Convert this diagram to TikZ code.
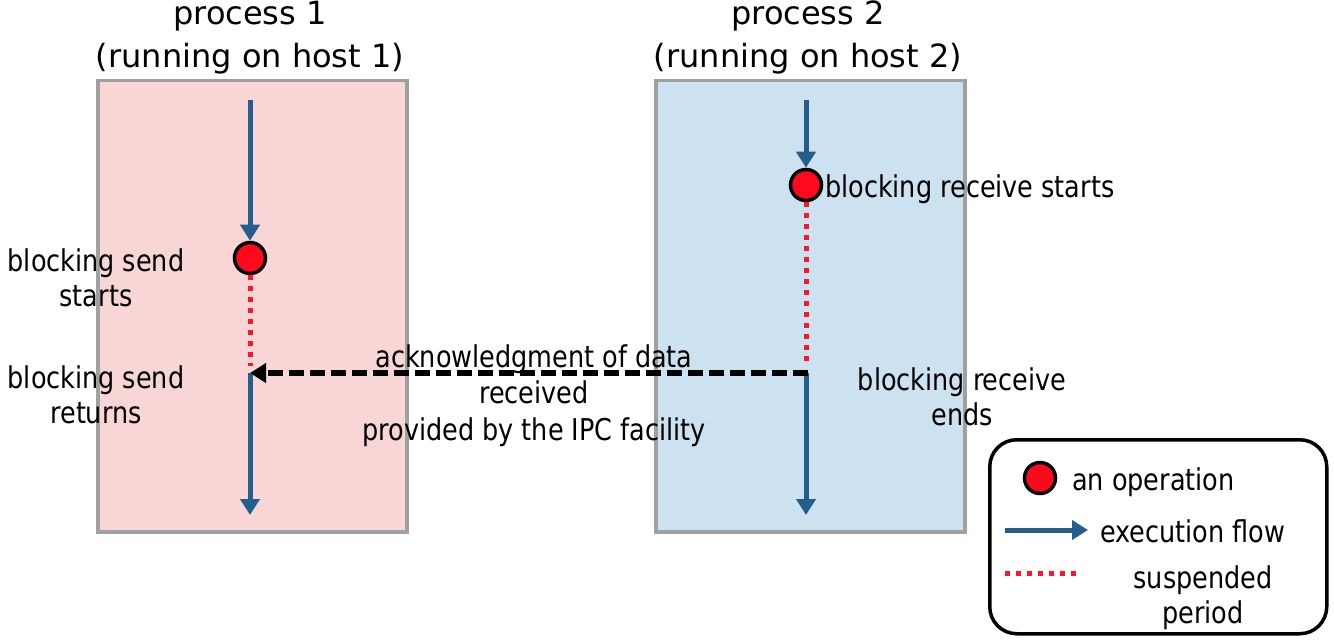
\documentclass[tikz,border=0pt]{standalone}
\usepackage{fontspec}
\setmainfont[FakeStretch=0.85]{DejaVu Sans}
\newfontfamily\titlefont{DejaVu Sans}
\usetikzlibrary{arrows.meta}
\definecolor{pinkbg}{RGB}{248,214,214}
\definecolor{bluebg}{RGB}{205,226,241}
\definecolor{boxgray}{RGB}{160,160,160}
\definecolor{flowblue}{RGB}{36,94,140}
\definecolor{opred}{RGB}{255,10,28}
\definecolor{dotred}{RGB}{255,20,40}
\begin{document}
\begin{tikzpicture}[x=1pt,y=-1pt,
  procbox/.style={draw=boxgray,line width=3.5pt,minimum width=309pt,minimum height=451pt,inner sep=0pt,anchor=north west},
  op/.style={circle,draw=black,line width=3.5pt,fill=opred,minimum size=31pt,inner sep=0pt},
  flow/.style={draw=flowblue,line width=5pt,-{Triangle[length=16pt,width=19pt]}},
  susp/.style={draw=dotred,line width=5pt,dash pattern=on 5pt off 6pt},
  ack/.style={draw=black,line width=6pt,dash pattern=on 15pt off 6pt,-{Triangle[length=16pt,width=19pt]}},
  title/.style={font=\titlefont\fontsize{32}{43}\selectfont,align=center,inner sep=0pt,anchor=base},
  lbl/.style={font=\fontsize{30}{35}\selectfont,align=center,inner sep=0pt}]
\useasboundingbox (0,0) rectangle (1334,644);
% process boxes
\node[procbox,fill=pinkbg] (p1) at (96,79) {};
\node[procbox,fill=bluebg] (p2) at (654,79) {};
\node[title] (t1) at (250,68) {process 1\\(running on host 1)};
\node[title] (t2) at (808,68) {process 2\\(running on host 2)};
% process 1 timeline
\coordinate (a1s) at (250,100);
\node[op] (o1) at (250,258) {};
\coordinate (s1e) at (250,366);
\coordinate (r1) at (250,373);
\coordinate (a1e) at (250,515);
\draw[flow] (a1s) -- (o1.north);
\draw[susp] (o1.south) -- (s1e);
\draw[flow] (r1) -- (a1e);
% process 2 timeline
\coordinate (a2s) at (806,100);
\node[op] (o2) at (806,185) {};
\coordinate (s2e) at (806,366);
\coordinate (r2) at (808,373);
\coordinate (r2b) at (806,373);
\coordinate (a2e) at (806,515);
\draw[flow] (a2s) -- (o2.north);
\draw[susp] (o2.south) -- (s2e);
\draw[flow] (r2b) -- (a2e);
% acknowledgment
\draw[ack] (r2) -- (r1);
% labels
\node[lbl,anchor=base] (l1) at (96,307) {blocking send\\starts};
\node[lbl,anchor=base] (l2) at (96,423) {blocking send\\returns};
\node[lbl,anchor=base west] (l3) at (825,198) {blocking receive starts};
\node[lbl,anchor=base] (l4) at (962,425) {blocking receive\\ends};
\node[lbl,anchor=base,font=\fontsize{30}{36.5}\selectfont] (l5) at (534,440) {acknowledgment of data\\received\\provided by the IPC facility};
% legend
\node[draw=black,line width=3.5pt,rounded corners=27pt,minimum width=337pt,minimum height=194pt,anchor=north west] (leg) at (988,438) {};
\node[op] (lo) at (1040,478) {};
\node[lbl,anchor=base west] (lt1) at (1072,490) {an operation};
\coordinate (lf1) at (1005,530);
\coordinate (lf2) at (1088,530);
\draw[flow] (lf1) -- (lf2);
\node[lbl,anchor=base west] (lt2) at (1100,542) {execution flow};
\coordinate (ls1) at (1005,573);
\coordinate (ls2) at (1082,573);
\draw[susp] (ls1) -- (ls2);
\node[lbl,anchor=base] (lt3) at (1203,623) {suspended\\period};
\end{tikzpicture}
\end{document}
